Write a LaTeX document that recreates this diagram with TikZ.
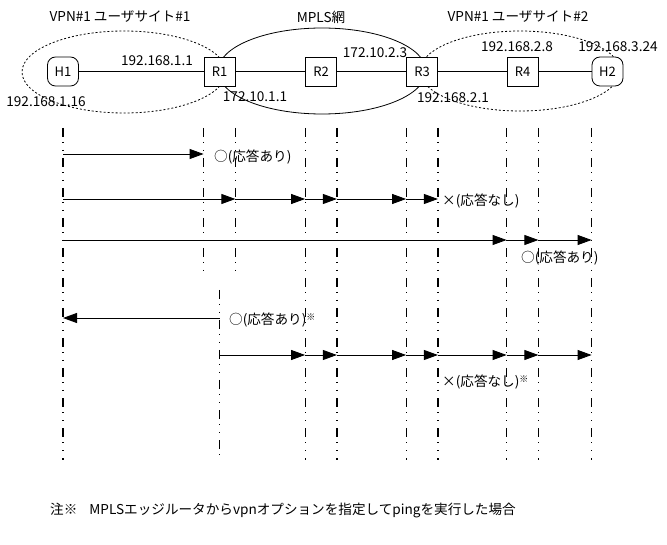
\documentclass[tikz,border=0pt]{standalone}
\usepackage{fontspec}
\setmainfont{Noto Sans CJK JP}
\usetikzlibrary{arrows.meta,positioning}

\tikzset{
  devbox/.style={draw, fill=white, line width=0.8pt, minimum width=31pt, minimum height=29pt, inner sep=0pt, font=\fontsize{13}{15}\selectfont},
  hostbox/.style={devbox, rounded corners=8pt},
  link/.style={line width=0.8pt},
  sitearea/.style={line width=0.8pt, dash pattern=on 2pt off 2pt},
  mplsarea/.style={line width=0.8pt},
  lifeline/.style={line width=1.2pt, dash pattern=on 9pt off 5pt on 1pt off 7pt on 1pt off 7pt},
  msg/.style={line width=0.9pt, -{Triangle[length=14pt,width=10pt]}},
  lbl/.style={font=\fontsize{13.6}{15}\selectfont, inner sep=0pt},
  res/.style={lbl, anchor=west},
}
\newcommand{\chu}{\raisebox{3.5pt}{\fontsize{9}{9}\selectfont ※}}

\begin{document}
\begin{tikzpicture}[x=1pt, y=-1pt]
  \useasboundingbox (0,0) rectangle (667,545);

  % Sites and MPLS core
  \draw[sitearea] (124,72) ellipse [x radius=102pt, y radius=41pt];
  \draw[mplsarea] (322,71) ellipse [x radius=104pt, y radius=43pt];
  \draw[sitearea] (520,71) ellipse [x radius=100pt, y radius=40pt];

  % Network
  \node[hostbox] (H1) at (63,71.5) {H1};
  \node[devbox] (R1) at (219.5,71.5) {R1};
  \node[devbox] (R2) at (321,71.5) {R2};
  \node[devbox] (R3) at (422,71.5) {R3};
  \node[devbox] (R4) at (522.5,71.5) {R4};
  \node[hostbox] (H2) at (607.5,71.5) {H2};
  \draw[link] (H1) -- (R1) -- (R2) -- (R3) -- (R4) -- (H2);

  % Area titles
  \node[lbl] (site1) at (120,17) {VPN\#1 ユーザサイト\#1};
  \node[lbl] (mpls) at (321,17) {MPLS網};
  \node[lbl] (site2) at (518,17) {VPN\#1 ユーザサイト\#2};

  % Addresses
  \node[lbl] (aH1) at (46,102) {192.168.1.16};
  \node[lbl] (aR1a) at (157,61) {192.168.1.1};
  \node[lbl] (aR1b) at (255,97) {172.10.1.1};
  \node[lbl] (aR3a) at (375,53) {172.10.2.3};
  \node[lbl] (aR3b) at (453,98) {192.168.2.1};
  \node[lbl] (aR4) at (517,47) {192.168.2.8};
  \node[lbl] (aH2) at (618,47) {192.168.3.24};

  % Lifelines
  \coordinate (top) at (0,128);
  \coordinate (bot) at (0,460);
  \coordinate (cut) at (0,275);
  \coordinate (cut2) at (0,290);
  \draw[lifeline] (H1.south |- top) -- (H1.south |- bot);
  \draw[lifeline] (R1.south west |- top) -- (R1.south west |- cut);
  \draw[lifeline] (R1.south east |- top) -- (R1.south east |- cut);
  \draw[lifeline] (R1.south |- cut2) -- (R1.south |- bot);
  \foreach \n in {R2,R3,R4} {
    \draw[lifeline] (\n.south west |- top) -- (\n.south west |- bot);
    \draw[lifeline] (\n.south east |- top) -- (\n.south east |- bot);
  }
  \draw[lifeline] (H2.south west |- top) -- (H2.south west |- bot);

  % Ping rows
  \coordinate (m1) at (0,154);
  \coordinate (m2) at (0,199);
  \coordinate (m3) at (0,240);
  \coordinate (m4) at (0,318);
  \coordinate (m5) at (0,355);

  % 1: H1 -> R1
  \draw[msg] (H1.south |- m1) -- (R1.south west |- m1);
  \node[res] (ok1) at (214,157) {○(応答あり)};

  % 2: H1 -> R3
  \foreach \a/\b in {H1.south/R1.south east, R1.south east/R2.south west,
                     R2.south west/R2.south east, R2.south east/R3.south west,
                     R3.south west/R3.south east}
    \draw[msg] (\a |- m2) -- (\b |- m2);
  \node[res] (ng2) at (442,201) {×(応答なし)};

  % 3: H1 -> H2
  \foreach \a/\b in {H1.south/R4.south west, R4.south west/R4.south east,
                     R4.south east/H2.south west}
    \draw[msg] (\a |- m3) -- (\b |- m3);
  \node[res] (ok3) at (521,258) {○(応答あり)};

  % 4: R1 -> H1 (vpn option)
  \draw[msg] (R1.south |- m4) -- (H1.south |- m4);
  \node[res] (ok4) at (229,320) {○(応答あり)\chu};

  % 5: R1 -> H2 (vpn option)
  \foreach \a/\b in {R1.south/R2.south west, R2.south west/R2.south east,
                     R2.south east/R3.south west, R3.south west/R3.south east,
                     R3.south east/R4.south west, R4.south west/R4.south east,
                     R4.south east/H2.south west}
    \draw[msg] (\a |- m5) -- (\b |- m5);
  \node[res] (ng5) at (442,382) {×(応答なし)\chu};

  % Note
  \node[res] (note) at (50,510) {注※\hspace{12pt}MPLSエッジルータからvpnオプションを指定してpingを実行した場合};
\end{tikzpicture}
\end{document}
